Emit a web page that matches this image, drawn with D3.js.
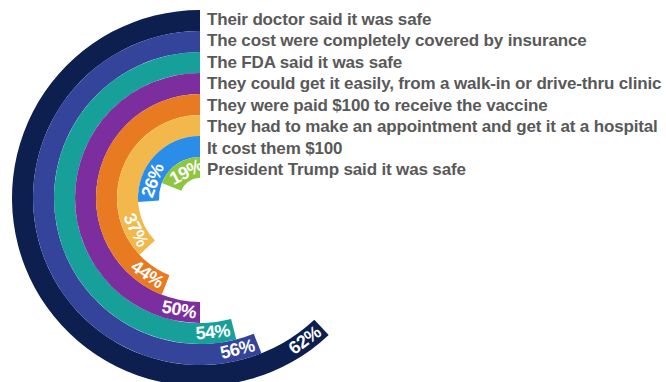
<!DOCTYPE html>
<html>
<head>
<meta charset="utf-8">
<script src="https://cdn.jsdelivr.net/npm/d3@7/dist/d3.min.js"></script>
<style>
  html, body { margin: 0; padding: 0; background: #ffffff; }
  svg { display: block; }
</style>
</head>
<body>
<svg id="chart" width="666" height="382"></svg>
<script>
// Reasons that would make people more likely to get the vaccine (% of respondents)
const categories = [
  "Their doctor said it was safe",
  "The cost were completely covered by insurance",
  "The FDA said it was safe",
  "They could get it easily, from a walk-in or drive-thru clinic",
  "They were paid $100 to receive the vaccine",
  "They had to make an appointment and get it at a hospital",
  "It cost them $100",
  "President Trump said it was safe"
];
const values = [62, 56, 54, 50, 44, 37, 26, 19];
const colors = ["#0d1f4e", "#34449a", "#17a09a", "#7d2e9e", "#e87a22", "#f2b84b", "#2a8de8", "#8dc63f"];

const data = categories.map((c, i) => ({ cat: c, value: values[i], color: colors[i] }));

const svg = d3.select("#chart");
const cx = 200, cy = 198;
const g = svg.append("g").attr("transform", `translate(${cx},${cy})`);

// Rings: outermost ring is the first category
const r = d3.scaleBand().domain(categories).range([188, 20]).paddingInner(0);
const bw = r.bandwidth();

// 100% = full turn, running counter-clockwise from 12 o'clock
const a = d3.scaleLinear().domain([0, 100]).range([0, -2 * Math.PI]);

const arc = d3.arc()
  .innerRadius(d => r(d.cat))
  .outerRadius(d => r(d.cat) + bw)
  .startAngle(0)
  .endAngle(d => a(d.value));

g.selectAll("path.ring")
  .data(data)
  .join("path")
  .attr("class", "ring")
  .attr("d", arc)
  .attr("fill", d => d.color);

// Value labels sit just inside the end of each ring, along its tangent
g.selectAll("text.val")
  .data(data)
  .join("text")
  .attr("class", "val")
  .attr("transform", d => {
    const rm = r(d.cat) + bw / 2 - 1;
    const phi = a(d.value) + 21 / rm;
    const x = rm * Math.sin(phi), y = -rm * Math.cos(phi);
    const deg = phi * 180 / Math.PI;
    const rot = deg > -90 ? deg : deg + 180;
    return `translate(${x},${y}) rotate(${rot})`;
  })
  .attr("text-anchor", "middle")
  .attr("dominant-baseline", "central")
  .attr("font-family", "'Liberation Sans', Arial, sans-serif")
  .attr("font-weight", "bold")
  .attr("font-size", 18)
  .attr("letter-spacing", -0.5)
  .attr("fill", "#ffffff")
  .text(d => d.value + "%");

// Category names listed beside the start of each ring
const ly = d3.scalePoint().domain(categories).range([25, 175]);
svg.selectAll("text.cat")
  .data(data)
  .join("text")
  .attr("class", "cat")
  .attr("x", cx + 7)
  .attr("y", d => ly(d.cat))
  .attr("font-family", "'Liberation Sans', Arial, sans-serif")
  .attr("font-weight", "bold")
  .attr("font-size", 17)
  .attr("letter-spacing", -0.15)
  .attr("fill", "#595959")
  .text(d => d.cat);
</script>
</body>
</html>
